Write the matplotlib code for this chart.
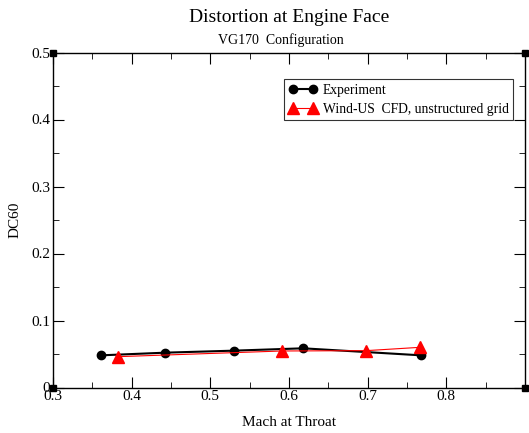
import numpy as np
import matplotlib
matplotlib.use("Agg")
import matplotlib.pyplot as plt
from matplotlib.ticker import MultipleLocator

plt.rcParams['font.family'] = ['Liberation Serif', 'DejaVu Serif']

# data
expMach = [0.361, 0.443, 0.530, 0.618, 0.768]
expDC60 = [0.048, 0.052, 0.055, 0.0585, 0.048]
cfdMach = [0.382, 0.591, 0.698, 0.767]
cfdDC60 = [0.046, 0.0545, 0.055, 0.060]

fig = plt.figure(figsize=(5.29, 4.33), dpi=100)
ax = fig.add_axes([53/529, 1 - 387.5/433, 472/529, 335/433])

ax.plot(expMach, expDC60, color='black', lw=1.5, marker='o', ms=6,
        label='Experiment')
ax.plot(cfdMach, cfdDC60, color='red', lw=0.8, marker='^', ms=9,
        label='Wind-US  CFD, unstructured grid')

ax.set_xlim(0.3, 0.9)
ax.set_ylim(0, 0.5)
ax.xaxis.set_minor_locator(MultipleLocator(0.05))
ax.yaxis.set_minor_locator(MultipleLocator(0.05))
ax.set_xticks([0.3, 0.4, 0.5, 0.6, 0.7, 0.8])
ax.set_xticklabels(['0.3', '0.4', '0.5', '0.6', '0.7', '0.8'])
ax.set_yticks([0, 0.1, 0.2, 0.3, 0.4, 0.5])
ax.set_yticklabels(['0', '0.1', '0.2', '0.3', '0.4', '0.5'])
ax.tick_params(which='both', direction='in', top=True, right=True,
               labelsize=11, pad=2)
ax.tick_params(which='major', length=8)
ax.tick_params(which='minor', length=4)
for s in ax.spines.values():
    s.set_linewidth(1.0)

# corner squares
ax.plot([0, 0, 1, 1], [0, 1, 0, 1], 's', color='black', ms=5,
        transform=ax.transAxes, clip_on=False)

ax.set_xlabel('Mach at Throat', fontsize=11, labelpad=9)
ax.set_ylabel('DC60', fontsize=11, labelpad=7)

fig.text(289/529, 1 - 18/433, 'Distortion at Engine Face', ha='center',
         va='center', fontsize=14)
fig.text(281/529, 1 - 40/433, 'VG170  Configuration', ha='center',
         va='center', fontsize=10)

leg = ax.legend(loc='upper right', bbox_to_anchor=(0.99, 0.94), fontsize=9.8,
                frameon=True, fancybox=False, edgecolor='black',
                handlelength=2.1, handletextpad=0.4, borderpad=0.35,
                labelspacing=0.4, numpoints=2)
leg.get_frame().set_linewidth(0.8)

fig.savefig('out.png', dpi=100)
